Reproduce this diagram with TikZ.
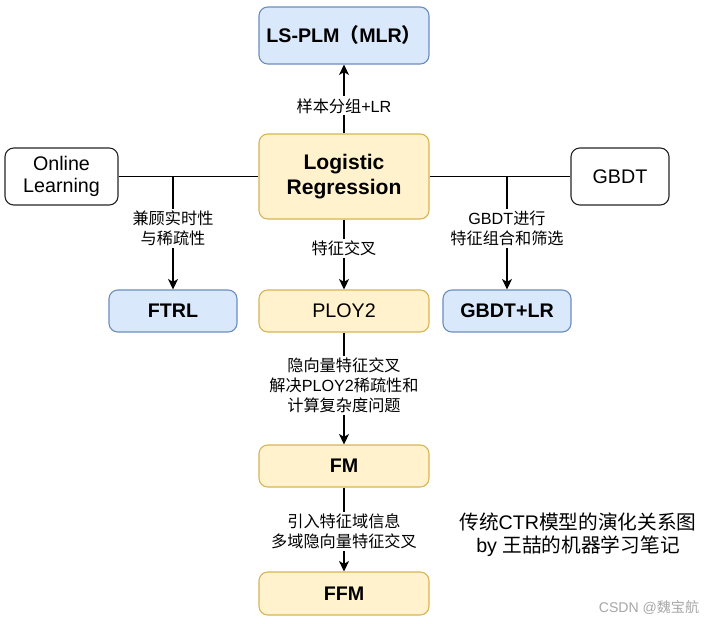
\documentclass[tikz,border=0pt]{standalone}
\usepackage{fontspec}
\setmainfont{Liberation Sans}
\newfontfamily\cjk{Noto Sans CJK SC}
\usetikzlibrary{arrows.meta}
\definecolor{fillblue}{HTML}{DAE8FC}
\definecolor{lineblue}{HTML}{6C8EBF}
\definecolor{fillyellow}{HTML}{FFF2CC}
\definecolor{lineyellow}{HTML}{D6B656}
\tikzset{box/.style = {
shape=rectangle, draw, rounded corners=2.2mm, line width=0.8pt, align=center, inner sep=0pt, font=\fontsize{14}{16}\selectfont
}}
\tikzset{bluebox/.style = {box, draw=lineblue, fill=fillblue, font=\fontsize{14}{16}\selectfont\bfseries}}
\tikzset{yellowbox/.style = {box, draw=lineyellow, fill=fillyellow}}
\tikzset{plainbox/.style = {box, draw=black!85, fill=white}}
\tikzset{note/.style = {fill=white, align=center, inner sep=1.5pt, font=\fontsize{11.5}{14.2}\selectfont}}
\tikzset{link/.style = {line width=0.8pt, -{Stealth[length=2.6mm,width=2.5mm,inset=0.7mm]}}}

\begin{document}
\begin{tikzpicture}[x=0.025cm,y=-0.025cm]
\useasboundingbox (0,0) rectangle (714,623);

\node[bluebox,minimum width=4.25cm,minimum height=1.425cm] (lsplm) at (344,35.5){LS-PLM{\cjk （}MLR{\cjk ）}};

\node[yellowbox,minimum width=4.25cm,minimum height=2.125cm,font=\fontsize{15}{18}\selectfont\bfseries] (lr) at (344,176.5){Logistic\\Regression};

\node[plainbox,minimum width=2.825cm,minimum height=1.425cm] (online) at (61.5,176.5){Online\\Learning};

\node[plainbox,minimum width=2.45cm,minimum height=1.425cm] (gbdt) at (620,176.5){GBDT};

\node[bluebox,minimum width=3.2cm,minimum height=1.05cm] (ftrl) at (173,311){FTRL};

\node[yellowbox,minimum width=4.25cm,minimum height=1.05cm] (ploy) at (344,311){PLOY2};

\node[bluebox,minimum width=3.2cm,minimum height=1.05cm] (gbdtlr) at (507,311){GBDT+LR};

\node[yellowbox,minimum width=4.25cm,minimum height=1.05cm,font=\fontsize{14}{16}\selectfont\bfseries] (fm) at (344,466){FM};

\node[yellowbox,minimum width=4.25cm,minimum height=1.075cm,font=\fontsize{14}{16}\selectfont\bfseries] (ffm) at (344,593.5){FFM};

\coordinate (jleft) at (ftrl |- lr);
\coordinate (jright) at (gbdtlr |- lr);

\draw [line width=0.8pt] (online) -- (lr);
\draw [line width=0.8pt] (lr) -- (gbdt);

\draw [link] (lr) -- node[note,pos=0.4] {{\cjk 样本分组}+LR} (lsplm);

\draw [link] (jleft) -- node[note,pos=0.46] {{\cjk 兼顾实时性}\\{\cjk 与稀疏性}} (ftrl);

\draw [link] (jright) -- node[note,pos=0.46] {GBDT{\cjk 进行}\\{\cjk 特征组合和筛选}} (gbdtlr);

\draw [link] (lr) -- node[note,pos=0.41] {{\cjk 特征交叉}} (ploy);

\draw [link] (ploy) -- node[note,pos=0.47] {{\cjk 隐向量特征交叉}\\{\cjk 解决}PLOY2{\cjk 稀疏性和}\\{\cjk 计算复杂度问题}} (fm);

\draw [link] (fm) -- node[note,pos=0.52] {{\cjk 引入特征域信息}\\{\cjk 多域隐向量特征交叉}} (ffm);

\node[align=center,font=\fontsize{14}{16.5}\selectfont] (caption) at (578,534.5){{\cjk 传统}CTR{\cjk 模型的演化关系图}\\by {\cjk 王喆的机器学习笔记}};

\node[text=black!35,font=\fontsize{10}{12}\selectfont] (mark) at (649,607){CSDN @{\cjk 魏宝航}};

\end{tikzpicture}
\end{document}
